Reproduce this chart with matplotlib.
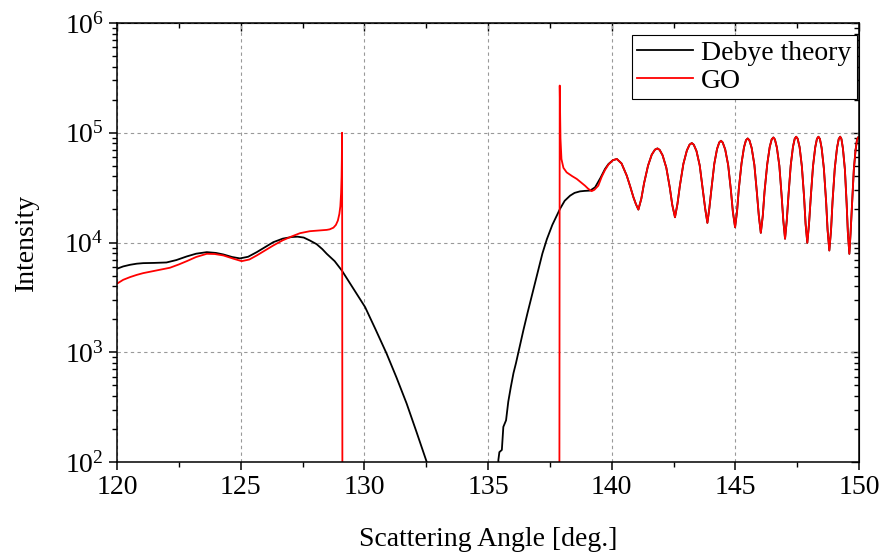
import numpy as np
import matplotlib
matplotlib.use("Agg")
import matplotlib.pyplot as plt
from matplotlib.ticker import MultipleLocator, LogLocator, FuncFormatter, NullFormatter

# values: angle in degrees, intensity as log10

# Debye theory, up to the first common maximum
debye_head_angle = [120.0, 120.25, 120.53, 120.8, 121.06, 121.5, 122.0, 122.4, 122.82,
                    123.2, 123.63, 124.0, 124.3, 124.65, 124.97, 125.3, 125.65, 126.0,
                    126.32, 126.7, 127.06, 127.3, 127.55, 127.8, 128.07, 128.3, 128.48,
                    128.8, 129.09, 129.5, 130.03, 130.45, 130.9, 131.3, 131.71, 132.1,
                    132.52, 132.9, 135.38, 135.42, 135.46, 135.56, 135.62, 135.73,
                    135.82, 135.92, 136.03, 136.13, 136.23, 136.43, 136.6, 136.81,
                    137.04, 137.2, 137.38, 137.6, 137.91, 138.1, 138.32, 138.5, 138.72,
                    138.9, 139.13, 139.33, 139.55, 139.73, 139.87, 140.05]
debye_head_log = [3.761, 3.782, 3.797, 3.807, 3.812, 3.814, 3.818, 3.84, 3.873,
                  3.898, 3.912, 3.905, 3.891, 3.868, 3.855, 3.87, 3.912, 3.96,
                  4.003, 4.035, 4.05, 4.053, 4.045, 4.018, 3.985, 3.94, 3.897,
                  3.83, 3.745, 3.6, 3.412, 3.21, 2.988, 2.77, 2.533, 2.28,
                  2.003, 1.75, 1.5, 2.02, 2.09, 2.11, 2.32, 2.38,
                  2.55, 2.68, 2.81, 2.9, 3.0, 3.2, 3.36, 3.55,
                  3.76, 3.9, 4.03, 4.16, 4.306, 4.38, 4.427, 4.452, 4.466,
                  4.47, 4.473, 4.503, 4.59, 4.67, 4.715, 4.75]

# GO, up to the first common maximum (falls out of range between the two spikes)
go_head_angle = [120.0, 120.25, 120.53, 120.8, 121.06, 121.6, 122.14, 122.5, 122.82,
                 123.2, 123.63, 123.95, 124.3, 124.7, 125.04, 125.35, 125.65, 126.0,
                 126.32, 126.7, 127.06, 127.4, 127.8, 128.2, 128.48, 128.6, 128.75,
                 128.85, 128.93, 128.99, 129.03, 129.06, 129.08, 129.09, 129.1, 129.12,
                 137.88, 137.9, 137.93, 137.97, 138.05, 138.18, 138.4, 138.59, 138.75,
                 138.92, 139.05, 139.19, 139.3, 139.46, 139.6, 139.73, 139.87, 140.05]
go_head_log = [3.625, 3.66, 3.685, 3.705, 3.721, 3.745, 3.77, 3.8, 3.83,
               3.868, 3.897, 3.895, 3.882, 3.853, 3.83, 3.845, 3.882, 3.93,
               3.973, 4.02, 4.055, 4.085, 4.103, 4.11, 4.115, 4.12, 4.135,
               4.16, 4.2, 4.26, 4.33, 4.45, 4.6, 4.75, 5.0, 0.0,
               0.0, 5.43, 4.95, 4.76, 4.68, 4.639, 4.605, 4.579, 4.55,
               4.518, 4.49, 4.468, 4.48, 4.518, 4.6, 4.66, 4.71, 4.75]

# oscillating tail where both curves coincide
tail_angle = [140.21, 140.4, 140.61, 140.75, 140.88, 140.98, 141.08, 141.2, 141.31,
              141.47, 141.62, 141.75, 141.85, 141.94, 142.06, 142.21, 142.35, 142.45,
              142.56, 142.66, 142.76, 142.9, 143.04, 143.15, 143.24, 143.32, 143.43,
              143.56, 143.68, 143.78, 143.87, 143.95, 144.04, 144.15, 144.26, 144.35,
              144.42, 144.49, 144.59, 144.71, 144.82, 144.9, 144.99, 145.07, 145.14,
              145.25, 145.35, 145.43, 145.5, 145.57, 145.66, 145.77, 145.87, 145.95,
              146.03, 146.11, 146.18, 146.29, 146.39, 146.47, 146.54, 146.6, 146.68,
              146.78, 146.87, 146.94, 147.01, 147.08, 147.15, 147.24, 147.33, 147.4,
              147.46, 147.52, 147.6, 147.69, 147.78, 147.84, 147.91, 147.98, 148.05,
              148.14, 148.23, 148.3, 148.36, 148.42, 148.49, 148.58, 148.67, 148.73,
              148.8, 148.87, 148.93, 149.02, 149.11, 149.18, 149.24, 149.29, 149.35,
              149.43, 149.5, 149.55, 149.61, 149.66, 149.72, 149.79, 149.86, 149.92,
              149.97, 150.0]
tail_log = [4.761, 4.72, 4.609, 4.51, 4.412, 4.35, 4.3, 4.4, 4.54,
            4.7, 4.8, 4.846, 4.857, 4.844, 4.794, 4.681, 4.5, 4.343,
            4.23, 4.352, 4.521, 4.717, 4.838, 4.892, 4.906, 4.891, 4.833,
            4.702, 4.492, 4.31, 4.179, 4.314, 4.501, 4.718, 4.852, 4.912,
            4.927, 4.911, 4.848, 4.706, 4.478, 4.281, 4.139, 4.285, 4.487,
            4.721, 4.867, 4.932, 4.948, 4.931, 4.862, 4.707, 4.458, 4.243,
            4.088, 4.244, 4.462, 4.714, 4.87, 4.94, 4.957, 4.939, 4.865,
            4.699, 4.431, 4.2, 4.034, 4.201, 4.434, 4.704, 4.871, 4.945,
            4.964, 4.945, 4.867, 4.693, 4.413, 4.171, 3.997, 4.171, 4.413,
            4.693, 4.867, 4.945, 4.964, 4.943, 4.86, 4.674, 4.373, 4.114,
            3.927, 4.114, 4.373, 4.674, 4.86, 4.943, 4.964, 4.943, 4.857,
            4.665, 4.356, 4.089, 3.897, 4.088, 4.354, 4.662, 4.84, 4.938,
            4.96, 4.955]

debye_angle = debye_head_angle + tail_angle
debye_log = debye_head_log + tail_log
go_angle = go_head_angle + tail_angle
go_log = go_head_log + tail_log

plt.rcParams['font.family'] = 'Liberation Serif'
plt.rcParams['mathtext.fontset'] = 'custom'
plt.rcParams['mathtext.rm'] = 'Liberation Serif'
plt.rcParams['mathtext.it'] = 'Liberation Serif:italic'
plt.rcParams['font.size'] = 20

fig = plt.figure(figsize=(8.85, 5.56), dpi=100)
ax = fig.add_axes([117/885, 94/556, 742/885, 439/556])

ax.plot(debye_angle, 10**np.array(debye_log), color='black', lw=1.3, label='Debye theory')
ax.plot(go_angle, 10**np.array(go_log), color='#ff0000', lw=1.3, label='GO')

ax.set_yscale('log')
ax.set_xlim(120, 150)
ax.set_ylim(1e2, 1e6)

ax.xaxis.set_major_locator(MultipleLocator(5))
ax.xaxis.set_minor_locator(MultipleLocator(2.5))
ax.yaxis.set_major_locator(LogLocator(base=10, numticks=10))
ax.yaxis.set_minor_locator(LogLocator(base=10, subs=np.arange(2, 10), numticks=10))
ax.yaxis.set_major_formatter(FuncFormatter(lambda v, p: r'$\mathrm{10^{%d}}$' % round(np.log10(v))))
ax.yaxis.set_minor_formatter(NullFormatter())

ax.grid(True, which='major', color='#999999', ls=(0, (3, 3)), lw=0.8)
for s in ax.spines.values():
    s.set_linewidth(1.1)
ax.tick_params(which='major', direction='out', length=6, width=1.1, labelsize=20)
ax.tick_params(which='minor', direction='out', length=3.5, width=1.0)

# mirrored ticks pointing inward on top and right
top = ax.secondary_xaxis('top')
top.xaxis.set_major_locator(MultipleLocator(5))
top.xaxis.set_minor_locator(MultipleLocator(2.5))
top.tick_params(which='both', direction='in', labeltop=False, width=1.0)
top.tick_params(which='major', length=6)
top.tick_params(which='minor', length=3.5)
right = ax.secondary_yaxis('right')
right.yaxis.set_major_locator(LogLocator(base=10, numticks=10))
right.yaxis.set_minor_locator(LogLocator(base=10, subs=np.arange(2, 10), numticks=10))
right.tick_params(which='both', direction='in', labelright=False, width=1.0)
right.tick_params(which='major', length=6)
right.tick_params(which='minor', length=3.5)

ax.set_xlabel('Scattering Angle [deg.]', fontsize=20, labelpad=19)
ax.set_ylabel('Intensity', fontsize=20, labelpad=18)

leg = ax.legend(loc='upper right', bbox_to_anchor=(0.997, 0.973), borderaxespad=0,
                fancybox=False, edgecolor='black', framealpha=1, fontsize=20,
                handlelength=2.0, handletextpad=0.3, labelspacing=0.08, borderpad=0.2)
leg.get_frame().set_linewidth(0.8)

fig.savefig('out.png', dpi=100)
